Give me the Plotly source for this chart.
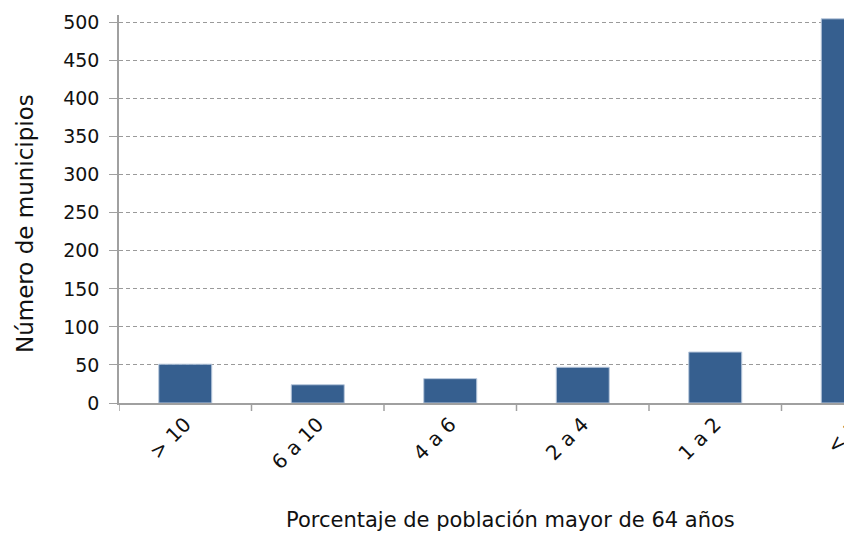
import plotly.graph_objects as go

categories = ["> 10", "6 a 10", "4 a 6", "2 a 4", "1 a 2", "< 1"]
values = [51, 24, 32, 47, 67, 505]
y_ticks = [0, 50, 100, 150, 200, 250, 300, 350, 400, 450, 500]

W, H = 844, 533
L, T, B = 119, 15, 130
plot_w = W - L
plot_h = H - T - B

fig = go.Figure()
fig.add_trace(go.Bar(
    x=list(range(len(categories))), y=values, width=0.4,
    marker=dict(color="#365F8F", line=dict(color="#b9c8dc", width=1)),
    hoverinfo="skip",
))

# visible range ends partway through the last category (cropped reference)
cat_px = 132.5
x_max = plot_w / cat_px - 0.5

fig.update_layout(
    width=W, height=H,
    margin=dict(l=L, r=0, t=T, b=B, autoexpand=False),
    paper_bgcolor="white", plot_bgcolor="white",
    showlegend=False,
    font=dict(family="DejaVu Sans", size=19, color="#111"),
    xaxis=dict(
        range=[-0.5, x_max], automargin=False,
        tickmode="array", tickvals=list(range(len(categories) - 1)),
        ticktext=categories[:-1],
        tickangle=-45, showgrid=False,
        showline=True, linecolor="#a0a0a0", linewidth=1.5,
        ticks="", zeroline=False,
        tickfont=dict(size=20),
    ),
    yaxis=dict(
        range=[0, 510], automargin=False,
        tickvals=y_ticks,
        showline=True, linecolor="#a0a0a0", linewidth=1.5,
        ticks="outside", ticklen=8, tickcolor="#a0a0a0",
        ticklabelstandoff=6,
        showgrid=True, gridcolor="#9a9a9a", griddash="4px,3px", gridwidth=1,
        zeroline=False, tickfont=dict(size=19),
    ),
)

# category separator ticks along x axis (between categories)
for k in range(0, len(categories)):
    xb = k - 0.5
    if xb <= x_max:
        fig.add_shape(type="line", xref="x", yref="paper", x0=xb, x1=xb,
                      y0=0, y1=-8 / plot_h, line=dict(color="#a0a0a0", width=1.5))

# last category label, partly cut off by the figure edge
fig.add_annotation(
    text=categories[-1], xref="paper", yref="paper",
    x=(843 - L) / plot_w, y=-(437 - (T + plot_h)) / plot_h,
    xanchor="center", yanchor="middle", textangle=-45,
    showarrow=False, font=dict(size=20),
)

# y axis title
fig.add_annotation(
    text="Número de municipios",
    xref="paper", yref="paper",
    x=(25 - L) / plot_w, y=(T + plot_h - 224) / plot_h,
    xanchor="center", yanchor="middle", textangle=-90, showarrow=False,
    font=dict(size=23),
)

# x axis title centred on the full (uncropped) category span
fig.add_annotation(
    text="Porcentaje de población mayor de 64 años",
    xref="paper", yref="paper",
    x=(510 - L) / plot_w, y=-(520 - (T + plot_h)) / plot_h,
    xanchor="center", yanchor="middle", showarrow=False,
    font=dict(size=21),
)

fig.write_html("out.html", config={"displayModeBar": False},
               post_script="document.body.style.margin='0';")
